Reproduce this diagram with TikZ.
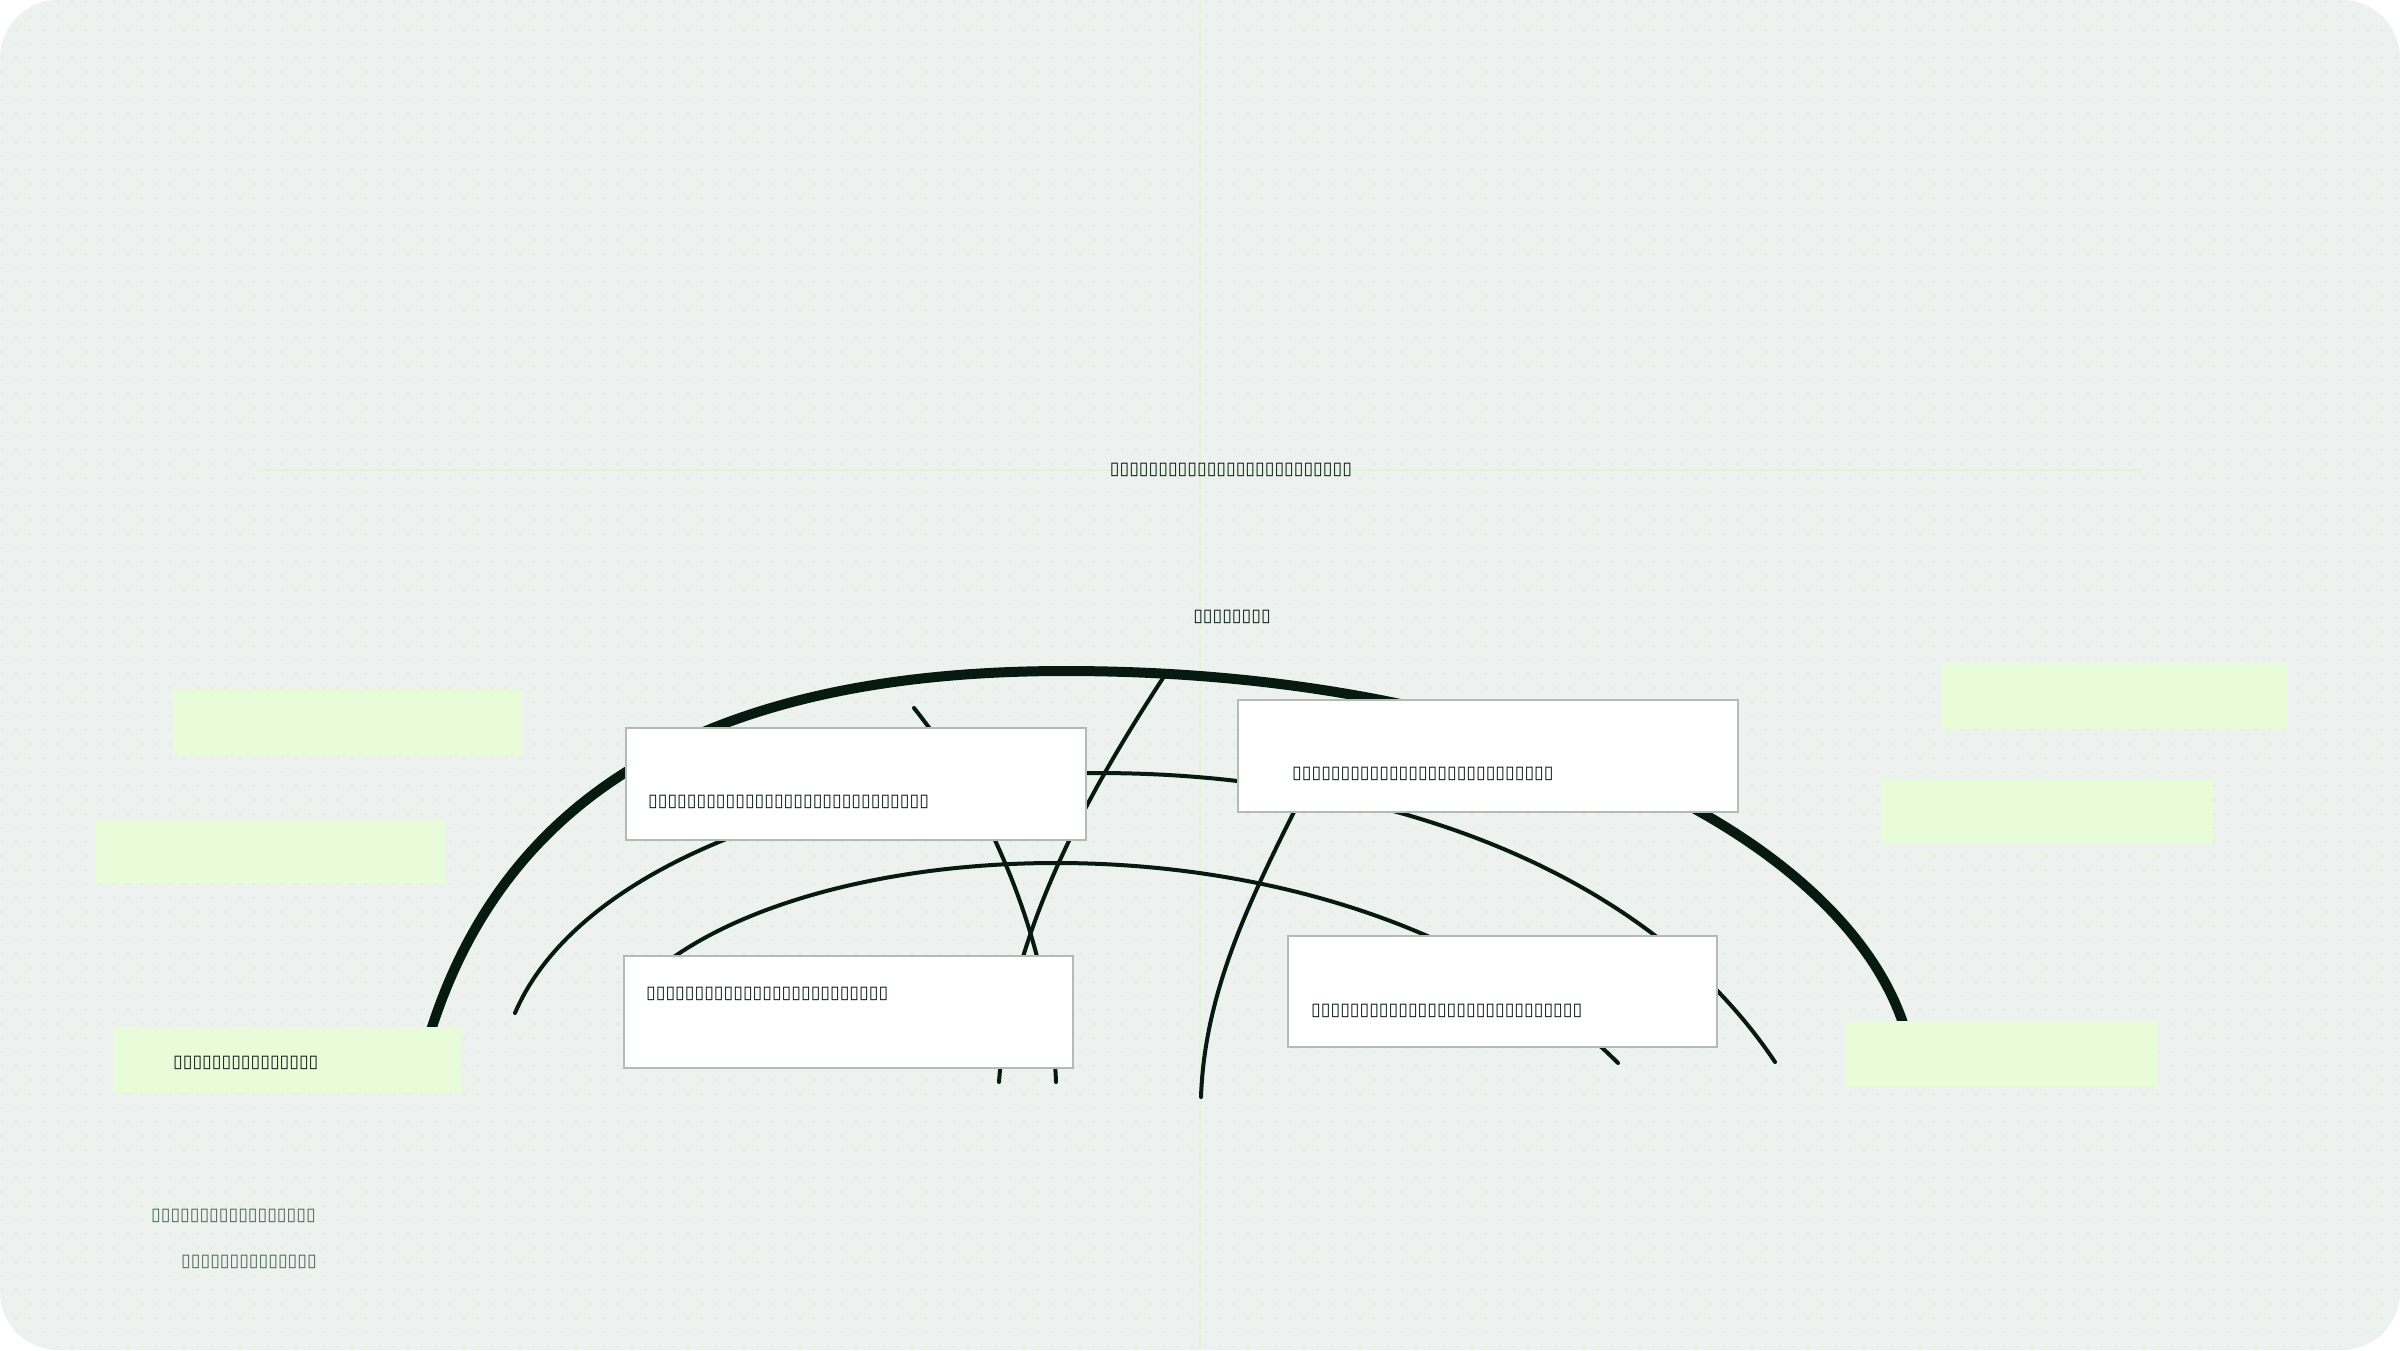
\documentclass[tikz,border=0pt]{standalone}
\usepackage{fontspec}
\newfontfamily\tofufont{DejaVu Sans}
\definecolor{canvas}{HTML}{EDF1EF}
\definecolor{griddot}{HTML}{DDF3CF}
\definecolor{guide}{HTML}{E0F6D2}
\definecolor{ink}{HTML}{061A12}
\definecolor{cardline}{HTML}{B3BBB7}
\definecolor{tag}{HTML}{E9FCD9}
\definecolor{note}{HTML}{4C6657}
\begin{document}
\begin{tikzpicture}[x=1pt,y=-1pt,
	card/.style={draw=cardline,fill=white,line width=1.5pt,inner sep=0pt},
	tagbox/.style={fill=tag,inner sep=0pt},
	label/.style={font=\tofufont\fontsize{17.6}{20}\selectfont,text=ink,inner sep=0pt},
	arc/.style={draw=ink,line width=4pt,line cap=round}]
	\useasboundingbox (0,0) rectangle (2400,1350);
	% canvas and dot grid
	\fill[white] (0,0) rectangle (2400,1350);
	\begin{scope}
		\clip[rounded corners=58pt] (0,0) rectangle (2400,1350);
		\fill[canvas] (0,0) rectangle (2400,1350);
		\foreach \r in {0,...,96}
		\draw[griddot,line width=2pt,dash pattern=on 2pt off 12pt] (1,\r*14+2) -- (2400,\r*14+2);
	\end{scope}
	\draw[guide,line width=1.5pt] (1200,0) -- (1200,1350);
	\draw[guide,line width=1.5pt] (257,470) -- (2143,470);
	% arcs
	\coordinate (top) at (1065,671);
	\draw[arc,line width=10pt,line cap=butt] (428,1040) .. controls (500,800) and (700,671) .. (top)
		.. controls (1540,671) and (1860,850) .. (1908,1040);
	\draw[arc] (515,1013) .. controls (640,720) and (1500,650) .. (1775,1062);
	\draw[arc] (640,985) .. controls (800,825) and (1350,795) .. (1618,1063);
	\draw[arc] (1163,678) .. controls (1090,790) and (1010,930) .. (999,1082);
	\draw[arc] (914,708) .. controls (980,790) and (1050,930) .. (1056,1082);
	\draw[arc] (1320,760) .. controls (1260,880) and (1205,980) .. (1201,1097);
	% cards
	\node[card,minimum width=460pt,minimum height=112pt] (cardA) at (856,784) {};
	\node[card,minimum width=500pt,minimum height=112pt] (cardB) at (1488,756) {};
	\node[card,minimum width=449pt,minimum height=112pt] (cardC) at (848.5,1012) {};
	\node[card,minimum width=429pt,minimum height=111pt] (cardD) at (1502.5,991.5) {};
	% tags
	\node[tagbox,minimum width=349pt,minimum height=65pt] (tagA) at (347.5,722.5) {};
	\node[tagbox,minimum width=349pt,minimum height=64pt] (tagB) at (270.5,851) {};
	\node[tagbox,minimum width=348pt,minimum height=66pt] (tagC) at (287,1060) {};
	\node[tagbox,minimum width=347pt,minimum height=66pt] (tagD) at (2114.5,696) {};
	\node[tagbox,minimum width=332pt,minimum height=64pt] (tagE) at (2047,811) {};
	\node[tagbox,minimum width=312pt,minimum height=66pt] (tagF) at (2002,1054) {};
	% texts
	\node[label] (title) at (1231,470) {▯▯▯▯▯▯▯▯▯▯▯▯▯▯▯▯▯▯▯▯▯▯▯▯▯};
	\node[label] (subtitle) at (1232,617) {▯▯▯▯▯▯▯▯};
	\node[label,anchor=west] (textA) at (648,802) {▯▯▯▯▯▯▯▯▯▯▯▯▯▯▯▯▯▯▯▯▯▯▯▯▯▯▯▯▯};
	\node[label,anchor=west] (textB) at (1292,774) {▯▯▯▯▯▯▯▯▯▯▯▯▯▯▯▯▯▯▯▯▯▯▯▯▯▯▯};
	\node[label,anchor=west] (textC) at (646,994) {▯▯▯▯▯▯▯▯▯▯▯▯▯▯▯▯▯▯▯▯▯▯▯▯▯};
	\node[label,anchor=west] (textD) at (1311,1011) {▯▯▯▯▯▯▯▯▯▯▯▯▯▯▯▯▯▯▯▯▯▯▯▯▯▯▯▯};
	\node[label,anchor=west] (textTag) at (173,1063) {▯▯▯▯▯▯▯▯▯▯▯▯▯▯▯};
	\node[label,text=note,anchor=east] (noteA) at (316,1216) {▯▯▯▯▯▯▯▯▯▯▯▯▯▯▯▯▯};
	\node[label,text=note,anchor=east] (noteB) at (317,1262) {▯▯▯▯▯▯▯▯▯▯▯▯▯▯};
\end{tikzpicture}
\end{document}
